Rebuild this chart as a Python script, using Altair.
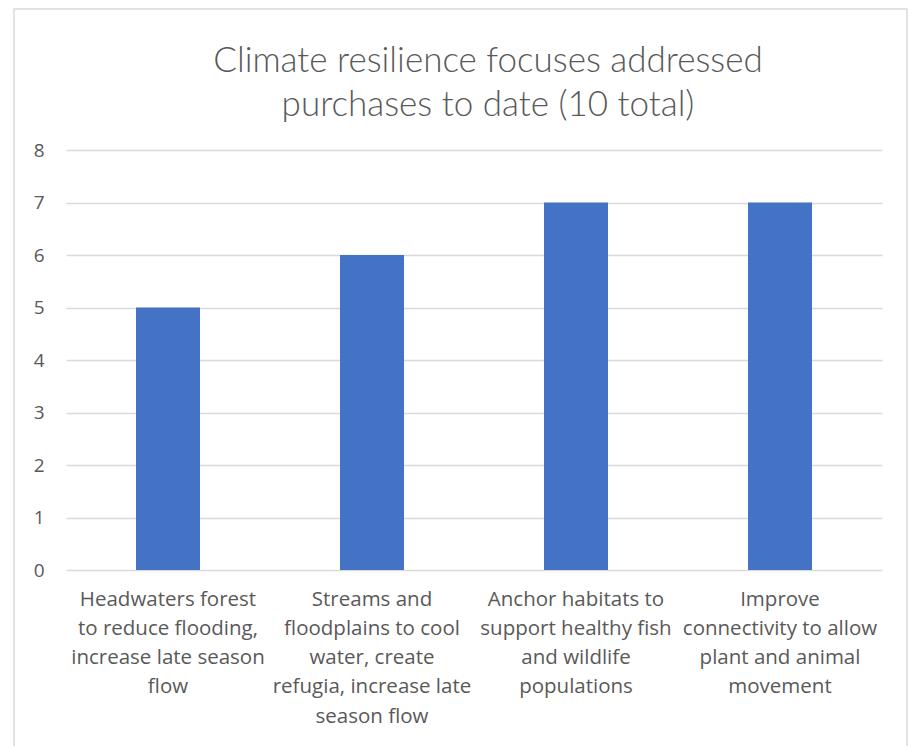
import altair as alt
import pandas as pd

categories = [
    "Headwaters forest|to reduce flooding,|increase late season|flow",
    "Streams and|floodplains to cool|water, create|refugia, increase late|season flow",
    "Anchor habitats to|support healthy fish|and wildlife|populations",
    "Improve|connectivity to allow|plant and animal|movement",
]
values = [5, 6, 7, 7]
y_ticks = [0, 1, 2, 3, 4, 5, 6, 7, 8]
title_lines = ["Climate resilience focuses addressed", "purchases to date (10 total)"]

df = pd.DataFrame({"category": categories, "value": values})
one_row = pd.DataFrame({"k": [0]})

label_font = "Open Sans"
text_color = "#595959"
grid_color = "#d9d9d9"

frame = alt.Chart(one_row).mark_rect(
    filled=False, stroke=grid_color, strokeWidth=1.5
).encode(
    x=alt.value(-52), x2=alt.value(841), y=alt.value(-141), y2=alt.value(700)
)

title = alt.Chart(one_row).mark_text(
    font="Lato",
    fontWeight=300,
    fontSize=35,
    color=text_color,
    lineHeight=44,
    align="center",
    baseline="middle",
).encode(
    x=alt.value(422), y=alt.value(-89), text=alt.value(title_lines)
)

bars = alt.Chart(df).mark_bar(color="#4472c4", size=64).encode(
    x=alt.X(
        "category:N",
        sort=categories,
        scale=alt.Scale(paddingInner=0, paddingOuter=0),
        axis=alt.Axis(
            title=None,
            labelAngle=0,
            labelExpr="split(datum.value, '|')",
            labelFont=label_font,
            labelFontSize=20.5,
            labelColor=text_color,
            labelLineHeight=29.3,
            labelBaseline="top",
            labelPadding=19,
            ticks=False,
            domain=False,
            grid=False,
            labelLimit=0,
        ),
    ),
    y=alt.Y(
        "value:Q",
        scale=alt.Scale(domain=[0, 8], nice=False),
        axis=alt.Axis(
            title=None,
            values=y_ticks,
            labelFont=label_font,
            labelFontSize=19,
            labelColor=text_color,
            labelPadding=22,
            ticks=False,
            domain=False,
            grid=True,
            gridColor=grid_color,
            gridWidth=1.5,
        ),
    ),
)

chart = alt.layer(frame, title, bars).properties(
    width=816,
    height=420,
    autosize=alt.AutoSizeParams(type="none"),
    padding={"left": 58, "top": 142, "right": 26, "bottom": 176},
).configure_view(stroke=None)

chart.save("out.html", embed_options={"renderer": "svg", "actions": False})
